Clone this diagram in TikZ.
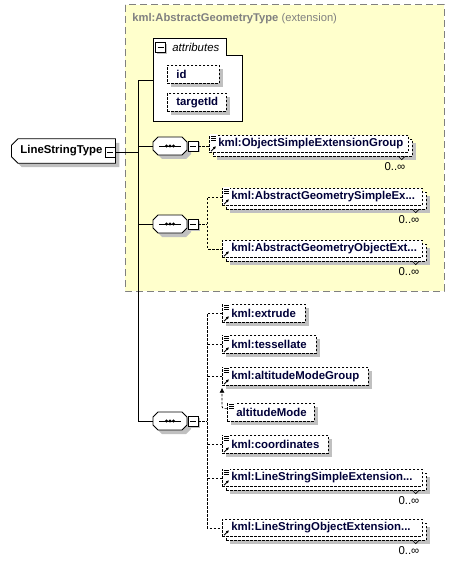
\documentclass[tikz,border=0pt]{standalone}
\usepackage{fontspec}
\setmainfont{Liberation Sans}
\usetikzlibrary{shapes.misc, shadows, arrows.meta, positioning}
\definecolor{kmlyellow}{RGB}{255,255,204}
\definecolor{kmlgray}{RGB}{128,128,128}
\definecolor{shadowgray}{RGB}{192,192,192}
\definecolor{kmlnavy}{RGB}{0,0,56}
\hyphenpenalty=10000

\begin{document}
\begin{tikzpicture}[x=1pt, y=-1pt, line width=0.8pt, font=\fontsize{11.4}{14}\selectfont]
    \tikzstyle{shade} = [drop shadow={shadow xshift=4pt, shadow yshift=-4pt, fill=shadowgray, opacity=1}]
    \tikzstyle{elem} = [draw, dash pattern=on 2.5pt off 1.5pt, line width=0.7pt, fill=white, anchor=north west, inner xsep=9pt, inner ysep=0pt, minimum height=17pt, align=left, text=kmlnavy, font=\fontsize{11.4}{14}\selectfont\bfseries]
    \tikzstyle{link} = [dash pattern=on 2.5pt off 1.5pt, line width=0.7pt]
    \tikzstyle{minus} = [draw, fill=white, minimum size=10pt, inner sep=0pt, drop shadow={shadow xshift=1.5pt, shadow yshift=-1.5pt, fill=shadowgray, opacity=1}, path picture={\draw ([xshift=2pt]path picture bounding box.west) -- ([xshift=-2pt]path picture bounding box.east);}]
    \tikzstyle{seq} = [rectangle, minimum width=34pt, minimum height=18pt, inner sep=0pt, path picture={\draw ([xshift=-11pt]path picture bounding box.center) -- ([xshift=11pt]path picture bounding box.center); \foreach \d in {-3.5,0,3.5} \fill ([xshift=\d pt]path picture bounding box.center) circle (1.6pt);}]

    \useasboundingbox (0,0) rectangle (455,564);

    % extension area
    \draw[kmlgray, dash pattern=on 7pt off 4pt, line width=1pt, fill=kmlyellow] (125,5) rectangle (444,291);
    \node[anchor=west, inner sep=0pt, text=kmlgray, font=\fontsize{11.2}{13}\selectfont] (title) at (132,19) {\textbf{kml:AbstractGeometryType} (extension)};

    % attributes
    \draw[fill=white] (153,38) -- (226,38) -- (226,55) -- (242,55) -- (242,121) -- (153,121) -- cycle;
    \coordinate (att) at (153,80);
    \node[minus] (attm) at (160.5,47.5) {};
    \node[anchor=west, inner sep=0pt, font=\fontsize{11.4}{14}\selectfont\itshape] (attl) at (172,47) {attributes};
    \node[elem, shade, minimum height=18pt, text width=34pt] (id) at (167,65) {id};
    \node[elem, shade, minimum height=18pt, text width=41pt] (tid) at (167,93) {targetId};

    % root
    \node[chamfered rectangle, chamfered rectangle corners={north west, south west}, chamfered rectangle xsep=3pt, draw, fill=white, shade, anchor=west, minimum height=20pt, inner xsep=6pt, text width=86pt, align=left, font=\fontsize{11.4}{14}\selectfont\bfseries] (lst) at (11,151) {LineStringType};
    \node[minus] (lstm) at (110,152) {};

    % sequences
    \foreach \y/\s in {146/s1, 224/s2, 421/s3}{
        \path[draw, fill=white, shade, shift={(170,\y)}] (-17,-4) -- (-12,-9) -- (12,-9) -- (17,-4) -- (17,4) -- (12,9) -- (-12,9) -- (-17,4) -- cycle;
        \node[seq] (\s) at (170,\y) {};
        \node[minus] (m\s) at (193,\y) {};
    }

    % elements
    \node[elem, shade, text width=181pt] (osgb) at (213,139) {};
    \node[elem, text width=181pt] (osg) at (209,135) {kml:ObjectSimpleExtensionGroup};
    \node[elem, shade, text width=182pt] (agseb) at (226,192) {};
    \node[elem, text width=182pt] (agse) at (222,188) {kml:AbstractGeometrySimpleEx...};
    \node[elem, shade, text width=182pt] (agoeb) at (226,244) {};
    \node[elem, text width=182pt] (agoe) at (222,240) {kml:AbstractGeometryObjectExt...};

    \node[elem, shade, minimum height=18pt, text width=65pt] (extrude) at (222,304) {kml:extrude};
    \node[elem, shade, minimum height=18pt, text width=76pt] (tess) at (222,335) {kml:tessellate};
    \node[elem, shade, minimum height=18pt, text width=128pt] (amg) at (222,367) {kml:altitudeModeGroup};
    \node[elem, shade, minimum height=18pt, text width=69pt] (am) at (227,403) {altitudeMode};
    \node[elem, shade, minimum height=18pt, text width=88pt] (coord) at (222,435) {kml:coordinates};
    \node[elem, shade, text width=182pt] (lsseb) at (226,473) {};
    \node[elem, text width=182pt] (lsse) at (222,469) {kml:LineStringSimpleExtension...};
    \node[elem, shade, text width=182pt] (lsoeb) at (226,523) {};
    \node[elem, text width=182pt] (lsoe) at (222,519) {kml:LineStringObjectExtension...};

    % trunk
    \coordinate (tk) at (138,0);
    \draw (lstm.east) -- (lstm.east -| tk);
    \draw (att) -| (tk |- s3.west) -- (s3.west);
    \draw (s1.west) -- (s1.west -| tk);
    \draw (s2.west) -- (s2.west -| tk);

    % branches
    \coordinate (br) at (207,0);
    \draw[link] (ms1.east) -- (ms1.east -| osg.west);
    \draw[link] (ms2.east) -- (ms2.east -| br);
    \draw[link] (agse.west) -| (br |- agoe.west) -- (agoe.west);
    \draw[link] (ms3.east) -- (ms3.east -| br);
    \draw[link] (extrude.west) -| (br |- lsoe.west) -- (lsoe.west);
    \foreach \n in {tess,amg,coord,lsse}
        \draw[link] (\n.west) -- (\n.west -| br);
    \draw[link, -{Latex[length=5pt,width=5pt]}, rounded corners=2pt] ([yshift=4pt]am.west) -| ([yshift=-2pt]amg.south west);

    % icons
    \foreach \n in {osg,agse,extrude,tess,amg,am,coord,lsse}{
        \fill[white] ([xshift=1pt,yshift=1pt]\n.north west) rectangle ++(7,6);
        \foreach \k in {1,3,5}
            \draw[line width=0.6pt] ([xshift=2pt,yshift=-\k pt]\n.north west) -- ++(5,0);
    }
    \foreach \n in {osg,agse,agoe,extrude,tess,amg,coord,lsse,lsoe}
        \draw[-{Latex[length=3pt,width=3pt]}] ([xshift=2pt,yshift=1.5pt]\n.south west) -- ++(5,-5);

    % multiplicity
    \foreach \n in {osgb,agseb,agoeb,lsseb,lsoeb}{
        \node[anchor=north east, inner sep=0pt] (\n-mult) at ([xshift=-7pt,yshift=-5pt]\n.south east) {0..∞};
        \draw[line width=0.6pt] ([xshift=-14pt]\n.south east) -- ++(3,3) -- ++(3,-3);
    }
\end{tikzpicture}
\end{document}
